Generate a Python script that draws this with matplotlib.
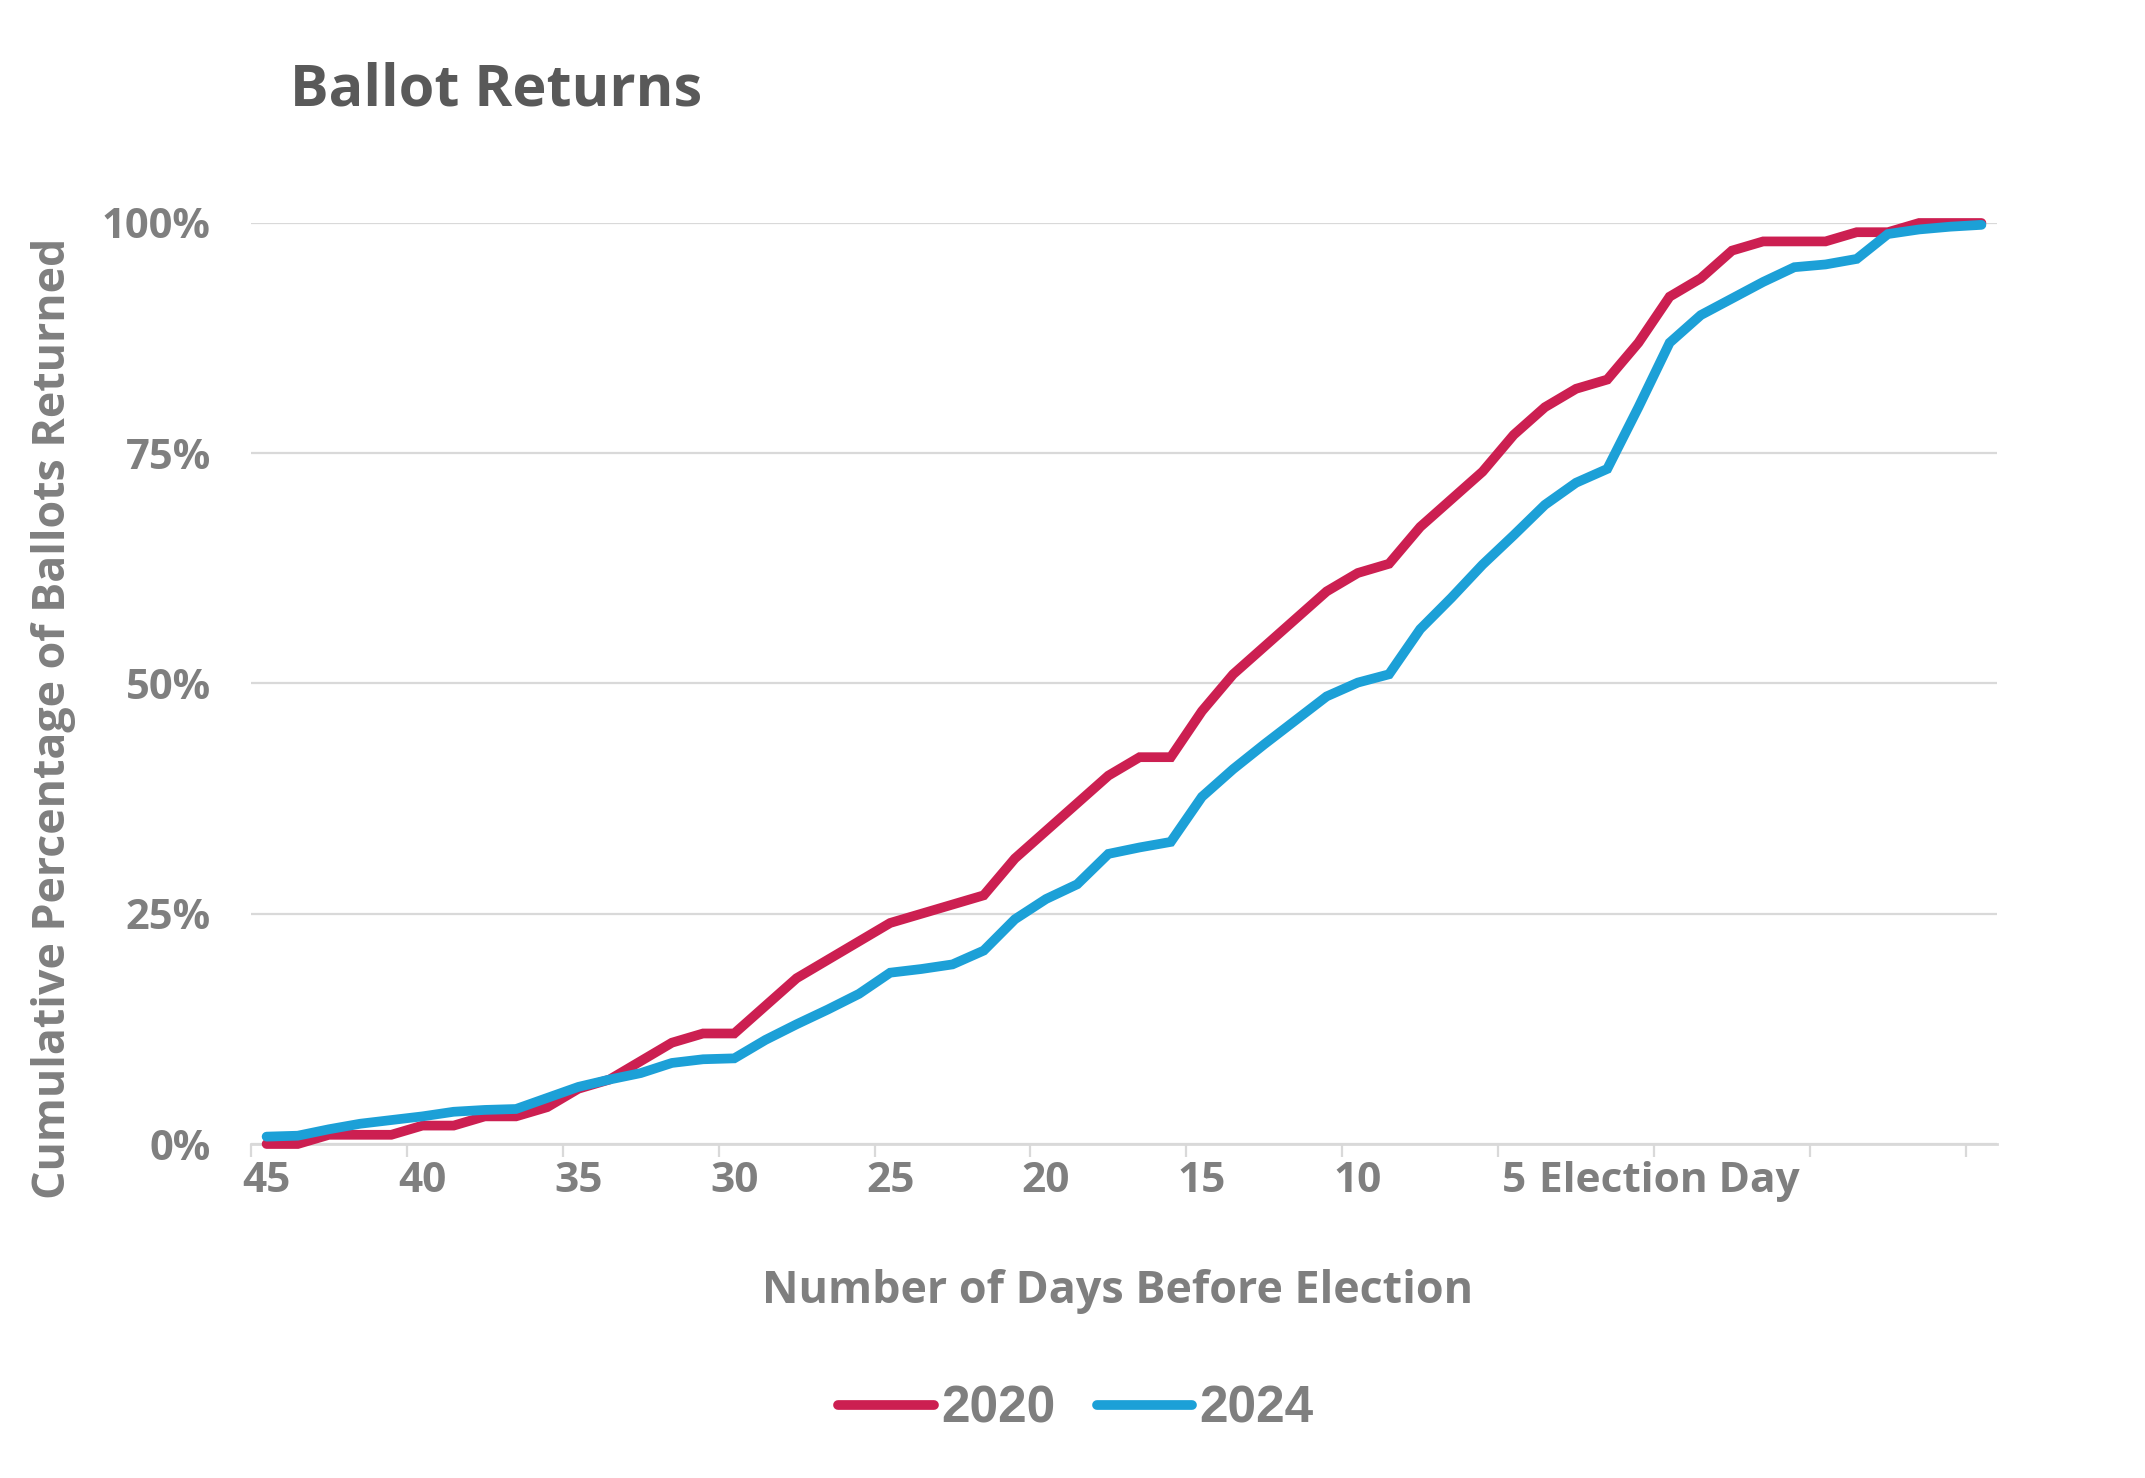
import numpy as np
import matplotlib
matplotlib.use("Agg")
import matplotlib.pyplot as plt

plt.rcParams['font.family'] = ['Open Sans', 'DejaVu Sans']

# days before election, one point per day (45 ... Election Day ... after)
day_labels = ['45', '40', '35', '30', '25', '20', '15', '10', '5', 'Election Day', '', '']

returns_2020 = [0, 0, 1, 1, 1, 2, 2, 3, 3, 4,
                6, 7, 9, 11, 12, 12, 15, 18, 20, 22,
                24, 25, 26, 27, 31, 34, 37, 40, 42, 42,
                47, 51, 54, 57, 60, 62, 63, 67, 70, 73,
                77, 80, 82, 83, 87, 92, 94, 97, 98, 98,
                98, 99, 99, 100, 100, 100]

returns_2024 = [0.8, 0.9, 1.6, 2.2, 2.6, 3.0, 3.5, 3.7, 3.8, 5.0,
                6.2, 7.0, 7.7, 8.8, 9.2, 9.3, 11.3, 13.0, 14.6, 16.3,
                18.6, 19.0, 19.5, 21.0, 24.4, 26.6, 28.2, 31.5, 32.2, 32.8,
                37.7, 40.7, 43.4, 46.0, 48.6, 50.1, 51.0, 55.9, 59.3, 62.9,
                66.1, 69.4, 71.8, 73.3, 80.0, 87.0, 90.0, 91.8, 93.6, 95.2,
                95.5, 96.1, 98.8, 99.3, 99.6, 99.8]

series_names = ['2020', '2024']
series_colors = ['#CC1F51', '#1CA0D7']

grid_col = '#D9D9D9'
text_col = '#7F7F7F'
title_col = '#595959'

fig = plt.figure(figsize=(21.45, 14.78), dpi=100)
ax = fig.add_axes([251/2145, 334/1478, 1746/2145, 921/1478])

x = np.arange(len(returns_2020))
lines = []
for vals, name, col in zip([returns_2020, returns_2024], series_names, series_colors):
    ln, = ax.plot(x, np.array(vals) / 100.0, color=col, lw=7, label=name,
                  solid_capstyle='round', solid_joinstyle='miter', clip_on=False, zorder=3)
    lines.append(ln)

ax.set_xlim(-0.5, len(x) - 0.5)
ax.set_ylim(0, 1)

# y axis
ax.set_yticks([0, 0.25, 0.5, 0.75, 1.0])
ax.set_yticklabels(['0%', '25%', '50%', '75%', '100%'])
ax.yaxis.grid(True, color=grid_col, lw=1.6)
ax.set_axisbelow(True)
ax.tick_params(axis='y', length=0, pad=29, labelsize=30, labelcolor=text_col)

# x axis: tick marks between categories, labels on categories
label_pos = np.arange(0, len(x), 5)
ax.set_xticks(label_pos - 0.5)
ax.set_xticklabels([])
ax.set_xticks(label_pos, minor=True)
ax.set_xticklabels(day_labels, minor=True)
ax.tick_params(axis='x', which='major', length=9, width=1.6, color=grid_col)
ax.tick_params(axis='x', which='minor', length=0, pad=12, labelsize=30.5, labelcolor=text_col)
for lab in ax.get_xticklabels(minor=True) + ax.get_yticklabels():
    lab.set_fontweight('bold')

for s in ['top', 'right', 'left']:
    ax.spines[s].set_visible(False)
ax.spines['bottom'].set_color(grid_col)
ax.spines['bottom'].set_linewidth(2)

fig.text(290/2145, 1 - 105/1478, 'Ballot Returns', fontsize=41.5, fontweight='bold',
         color=title_col, ha='left', va='baseline')
fig.text(1118/2145, 1 - 1303/1478, 'Number of Days Before Election', fontsize=32.3,
         fontweight='bold', color=text_col, ha='center', va='baseline')
fig.text(54/2145, 1 - 718/1478, 'Cumulative Percentage of Ballots Returned', fontsize=32.2,
         fontweight='bold', color=text_col, ha='center', va='center', rotation=90)

leg = fig.legend(handles=lines, labels=series_names, loc='center',
                 bbox_to_anchor=(1076/2145, 1 - 1409/1478), ncol=2, frameon=False,
                 handlelength=1.85, handletextpad=0.15, columnspacing=0.8,
                 prop={'family': ['Liberation Sans', 'DejaVu Sans'], 'weight': 'bold', 'size': 37})
for t in leg.get_texts():
    t.set_color(text_col)

fig.savefig('out.png', dpi=100, facecolor='white')
